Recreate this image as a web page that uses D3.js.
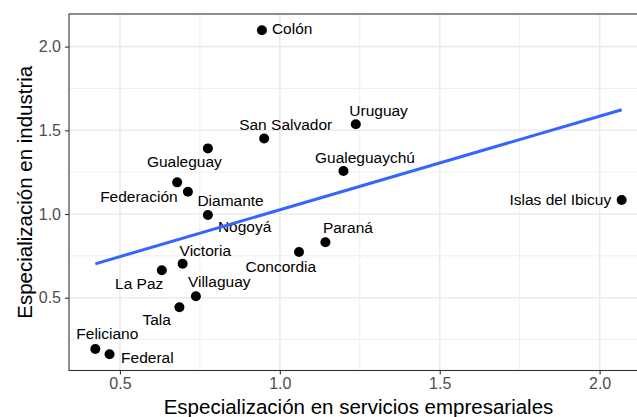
<!DOCTYPE html>
<html>
<head>
<meta charset="utf-8">
<script src="https://cdn.jsdelivr.net/npm/d3@7"></script>
<style>
  body { margin: 0; background: #fff; }
  text { font-family: "Liberation Sans", Arial, sans-serif; }
</style>
</head>
<body>
<script>
'use strict';

// departamentos de Entre Ríos
const departamentos = ["Colón", "San Salvador", "Uruguay", "Gualeguay", "Gualeguaychú",
  "Federación", "Diamante", "Nogoyá", "Islas del Ibicuy", "Paraná", "Concordia",
  "Victoria", "La Paz", "Villaguay", "Tala", "Feliciano", "Federal"];
// especialización en servicios empresariales (eje x)
const servicios = [0.944, 0.951, 1.2375, 0.775, 1.199, 0.679, 0.7125, 0.775, 2.069,
  1.1425, 1.060, 0.696, 0.631, 0.7375, 0.686, 0.423, 0.4675];
// especialización en industria (eje y)
const industria = [2.098, 1.451, 1.536, 1.392, 1.257, 1.189, 1.133, 0.994, 1.084,
  0.831, 0.773, 0.703, 0.664, 0.509, 0.443, 0.194, 0.162];
const xTicks = [0.5, 1.0, 1.5, 2.0];
const yTicks = [0.5, 1.0, 1.5, 2.0];
const xMinor = [0.75, 1.25, 1.75];
const yMinor = [0.25, 0.75, 1.25, 1.75];

(function() {

  let svgContainer = "";
  const width = 637, height = 417;
  const panel = { left: 69, right: 648, top: 14, bottom: 370.5 };

  // where each label sits relative to its point (anchor, dx, dy)
  const labelPlace = {
    "Colón": ["start", 10, 4],
    "San Salvador": ["start", -25, -9],
    "Uruguay": ["start", -6.5, -8],
    "Gualeguay": ["start", -61, 19],
    "Gualeguaychú": ["start", -28.5, -8],
    "Federación": ["end", 0.5, 19.5],
    "Diamante": ["start", 9.5, 14.5],
    "Nogoyá": ["start", 10, 16.5],
    "Islas del Ibicuy": ["end", -10.5, 5.5],
    "Paraná": ["start", -2.5, -9],
    "Concordia": ["start", -53.5, 19.5],
    "Victoria": ["start", -3, -8],
    "La Paz": ["end", 1.5, 19],
    "Villaguay": ["start", -8, -9],
    "Tala": ["end", -8.5, 17.5],
    "Feliciano": ["start", -19, -9.5],
    "Federal": ["start", 11.5, 8.5]
  };

  window.onload = function() {
    svgContainer = d3.select('body')
      .append('svg')
      .attr('width', width)
      .attr('height', height);

    let data = departamentos.map((d, i) => ({ name: d, x: servicios[i], y: industria[i] }));
    makeScatterPlot(data);
  }

  function makeScatterPlot(data) {
    // ggplot style 5% expansion
    let xExt = d3.extent(servicios), yExt = d3.extent(industria);
    let xPad = (xExt[1] - xExt[0]) * 0.05, yPad = (yExt[1] - yExt[0]) * 0.05;

    let xScale = d3.scaleLinear()
      .domain([xExt[0] - xPad, xExt[1] + xPad])
      .range([panel.left, panel.right]);
    let yScale = d3.scaleLinear()
      .domain([yExt[0] - yPad, yExt[1] + yPad])
      .range([panel.bottom, panel.top]);

    drawGrid(xScale, yScale);
    drawAxes(xScale, yScale);

    // points
    svgContainer.selectAll('.dot')
      .data(data)
      .enter()
      .append('circle')
        .attr('cx', (d) => xScale(d.x))
        .attr('cy', (d) => yScale(d.y))
        .attr('r', 5)
        .attr('fill', '#000');

    // labels
    svgContainer.selectAll('.lbl')
      .data(data)
      .enter()
      .append('text')
        .attr('x', (d) => xScale(d.x) + labelPlace[d.name][1])
        .attr('y', (d) => yScale(d.y) + labelPlace[d.name][2])
        .attr('text-anchor', (d) => labelPlace[d.name][0])
        .style('font-size', '15.5px')
        .attr('fill', '#000')
        .text((d) => d.name);

    // linear fit (lm) over the data range
    let mx = d3.mean(servicios), my = d3.mean(industria);
    let sxy = d3.sum(data, (d) => (d.x - mx) * (d.y - my));
    let sxx = d3.sum(data, (d) => (d.x - mx) * (d.x - mx));
    let slope = sxy / sxx, icept = my - slope * mx;
    let fit = [xExt[0], xExt[1]].map((x) => [x, icept + slope * x]);
    svgContainer.append('path')
      .datum(fit)
      .attr('fill', 'none')
      .attr('stroke', '#3366FF')
      .attr('stroke-width', 3)
      .attr('d', d3.line().x((d) => xScale(d[0])).y((d) => yScale(d[1])));

    // panel border
    svgContainer.append('rect')
      .attr('x', panel.left)
      .attr('y', panel.top)
      .attr('width', panel.right - panel.left)
      .attr('height', panel.bottom - panel.top)
      .attr('fill', 'none')
      .attr('stroke', '#333333')
      .attr('stroke-width', 1.1);

    makeLabels();
  }

  // grid lines
  function drawGrid(xScale, yScale) {
    let g = svgContainer.append('g');
    g.selectAll('.xminor').data(xMinor).enter().append('line')
      .attr('x1', (d) => xScale(d)).attr('x2', (d) => xScale(d))
      .attr('y1', panel.top).attr('y2', panel.bottom)
      .attr('stroke', '#EBEBEB').attr('stroke-width', 0.8);
    g.selectAll('.yminor').data(yMinor).enter().append('line')
      .attr('y1', (d) => yScale(d)).attr('y2', (d) => yScale(d))
      .attr('x1', panel.left).attr('x2', panel.right)
      .attr('stroke', '#EBEBEB').attr('stroke-width', 0.8);
    g.selectAll('.xmajor').data(xTicks).enter().append('line')
      .attr('x1', (d) => xScale(d)).attr('x2', (d) => xScale(d))
      .attr('y1', panel.top).attr('y2', panel.bottom)
      .attr('stroke', '#EBEBEB').attr('stroke-width', 1.6);
    g.selectAll('.ymajor').data(yTicks).enter().append('line')
      .attr('y1', (d) => yScale(d)).attr('y2', (d) => yScale(d))
      .attr('x1', panel.left).attr('x2', panel.right)
      .attr('stroke', '#EBEBEB').attr('stroke-width', 1.6);
  }

  // axes with ticks
  function drawAxes(xScale, yScale) {
    let xAxis = d3.axisBottom(xScale)
      .tickValues(xTicks)
      .tickFormat(d3.format('.1f'))
      .tickSize(4)
      .tickPadding(3);
    let gx = svgContainer.append('g')
      .attr('transform', 'translate(0,' + panel.bottom + ')')
      .call(xAxis);

    let yAxis = d3.axisLeft(yScale)
      .tickValues(yTicks)
      .tickFormat(d3.format('.1f'))
      .tickSize(4)
      .tickPadding(4);
    let gy = svgContainer.append('g')
      .attr('transform', 'translate(' + panel.left + ',0)')
      .call(yAxis);

    [gx, gy].forEach((g) => {
      g.select('.domain').remove();
      g.selectAll('.tick line').attr('stroke', '#333333').attr('stroke-width', 1.1);
      g.selectAll('.tick text')
        .attr('fill', '#4D4D4D')
        .style('font-family', '"Liberation Sans", Arial, sans-serif')
        .style('font-size', '16px');
    });
  }

  // axis titles
  function makeLabels() {
    svgContainer.append('text')
      .attr('x', (panel.left + panel.right) / 2)
      .attr('y', 414)
      .attr('text-anchor', 'middle')
      .style('font-size', '20.5px')
      .attr('fill', '#000')
      .text('Especialización en servicios empresariales');

    svgContainer.append('text')
      .attr('transform', 'translate(32,' + ((panel.top + panel.bottom) / 2) + ')rotate(-90)')
      .attr('text-anchor', 'middle')
      .style('font-size', '20.5px')
      .attr('fill', '#000')
      .text('Especialización en industria');
  }

})();
</script>
</body>
</html>
